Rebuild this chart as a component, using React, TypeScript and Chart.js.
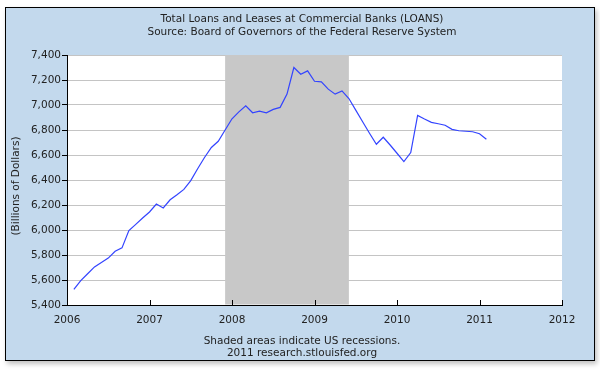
import React, { useEffect, useRef } from "react";
import { Chart, registerables } from "chart.js";

Chart.register(...registerables);

const titleLines = [
  "Total Loans and Leases at Commercial Banks (LOANS)",
  "Source: Board of Governors of the Federal Reserve System",
];
const footerLines = ["Shaded areas indicate US recessions.", "2011 research.stlouisfed.org"];
const yAxisTitle = "(Billions of Dollars)";

const months = [
  "2006-02", "2006-03", "2006-04", "2006-05", "2006-06", "2006-07", "2006-08", "2006-09", "2006-10", "2006-11", "2006-12", "2007-01",
  "2007-02", "2007-03", "2007-04", "2007-05", "2007-06", "2007-07", "2007-08", "2007-09", "2007-10", "2007-11", "2007-12", "2008-01",
  "2008-02", "2008-03", "2008-04", "2008-05", "2008-06", "2008-07", "2008-08", "2008-09", "2008-10", "2008-11", "2008-12", "2009-01",
  "2009-02", "2009-03", "2009-04", "2009-05", "2009-06", "2009-07", "2009-08", "2009-09", "2009-10", "2009-11", "2009-12", "2010-01",
  "2010-02", "2010-03", "2010-04", "2010-05", "2010-06", "2010-07", "2010-08", "2010-09", "2010-10", "2010-11", "2010-12", "2011-01",
  "2011-02",
];

const loans = [
  5525, 5595, 5650, 5705, 5740, 5775, 5830, 5857, 5995, 6045, 6096, 6144,
  6208, 6176, 6242, 6282, 6325, 6395, 6490, 6580, 6660, 6710, 6800, 6890,
  6945, 6994, 6938, 6951, 6938, 6965, 6981, 7087, 7300, 7246, 7273, 7190,
  7185, 7127, 7087, 7113, 7052, 6959, 6866, 6774, 6686, 6742, 6680, 6614,
  6547, 6620, 6917, 6888, 6861, 6850, 6838, 6805, 6794, 6790, 6786, 6770,
  6726,
];

const recessionStart = "2007-12";
const recessionEnd = "2009-06";

const xTicks = [2006, 2007, 2008, 2009, 2010, 2011, 2012];
const yMin = 5400;
const yMax = 7400;
const yStep = 200;

const toYear = (s: string) => {
  const [y, m] = s.split("-").map(Number);
  return y + (m - 1) / 12;
};

const FONT = '"DejaVu Sans", Verdana, sans-serif';
const FRAME_BG = "#c3d9ed";

const framePlugin = {
  id: "frame",
  beforeDraw(chart: any) {
    const ctx = chart.ctx;
    ctx.save();
    ctx.fillStyle = "#ffffff";
    ctx.fillRect(0, 0, chart.width, chart.height);
    ctx.shadowColor = "rgba(0,0,0,0.25)";
    ctx.shadowBlur = 5;
    ctx.shadowOffsetX = 2;
    ctx.shadowOffsetY = 3;
    ctx.fillStyle = FRAME_BG;
    ctx.fillRect(5, 7, 590, 354);
    ctx.shadowColor = "transparent";
    ctx.strokeStyle = "#000";
    ctx.lineWidth = 1;
    ctx.strokeRect(5.5, 7.5, 589, 353);
    const a = chart.chartArea;
    ctx.fillStyle = "#ffffff";
    ctx.fillRect(a.left, a.top, a.right - a.left, a.bottom - a.top);
    ctx.restore();
  },
  beforeDatasetsDraw(chart: any) {
    const ctx = chart.ctx;
    const a = chart.chartArea;
    const x = chart.scales.x;
    const x0 = x.getPixelForValue(toYear(recessionStart));
    const x1 = x.getPixelForValue(toYear(recessionEnd));
    ctx.save();
    ctx.fillStyle = "#c8c8c8";
    ctx.fillRect(x0, a.top, x1 - x0, a.bottom - a.top - 0.5);
    // inward x ticks
    ctx.strokeStyle = "#000";
    ctx.lineWidth = 1;
    ctx.beginPath();
    xTicks.forEach((t) => {
      const px = Math.round(x.getPixelForValue(t)) + 0.5;
      ctx.moveTo(px, a.bottom);
      ctx.lineTo(px, a.bottom - 5);
    });
    ctx.stroke();
    ctx.restore();
  },
  afterDraw(chart: any) {
    const ctx = chart.ctx;
    ctx.save();
    ctx.fillStyle = "#222";
    ctx.font = `10.5px ${FONT}`;
    ctx.textAlign = "center";
    ctx.textBaseline = "middle";
    ctx.fillText(titleLines[0], 302, 19);
    ctx.fillText(titleLines[1], 302, 32.5);
    ctx.fillText(footerLines[0], 302, 341);
    ctx.fillText(footerLines[1], 302, 353);
    ctx.translate(16, 186);
    ctx.rotate(-Math.PI / 2);
    ctx.fillText(yAxisTitle, 0, 0);
    ctx.restore();
  },
};

export default function App() {
  const ref = useRef<HTMLCanvasElement>(null);
  useEffect(() => {
    if (!ref.current) return;
    const chart = new Chart(ref.current, {
      type: "line",
      data: {
        datasets: [
          {
            data: months.map((m, i) => ({ x: toYear(m), y: loans[i] })),
            borderColor: "#3344ff",
            borderWidth: 1.2,
            pointRadius: 0,
            tension: 0,
            fill: false,
          },
        ],
      },
      options: {
        responsive: false,
        animation: false,
        events: [],
        layout: { padding: { left: 0, top: 55, right: 38, bottom: 0 } },
        plugins: { legend: { display: false }, tooltip: { enabled: false }, title: { display: false } },
        scales: {
          x: {
            type: "linear",
            min: xTicks[0],
            max: xTicks[xTicks.length - 1],
            afterBuildTicks: (s: any) => {
              s.ticks = xTicks.map((v) => ({ value: v }));
            },
            afterFit: (s: any) => {
              s.height = 70;
            },
            grid: { display: false, drawTicks: false },
            border: { display: true, color: "#000", width: 1 },
            ticks: {
              color: "#222",
              font: { family: FONT, size: 10.5 },
              padding: 9,
              maxRotation: 0,
              autoSkip: false,
              callback: (v: any) => String(v),
            },
          },
          y: {
            min: yMin,
            max: yMax,
            afterFit: (s: any) => {
              s.width = 67;
            },
            grid: { color: "#c4c4c4", lineWidth: 1, tickColor: "#000", tickLength: 5 },
            border: { display: true, color: "#000", width: 1 },
            ticks: {
              stepSize: yStep,
              color: "#222",
              font: { family: FONT, size: 10.5 },
              padding: 1,
              callback: (v: any) => Number(v).toLocaleString("en-US"),
            },
          },
        },
      },
      plugins: [framePlugin],
    });
    return () => chart.destroy();
  }, []);
  return (
    <div style={{ position: "absolute", left: 0, top: 0, width: 600, height: 375 }}>
      <canvas ref={ref} width={600} height={375} />
    </div>
  );
}
